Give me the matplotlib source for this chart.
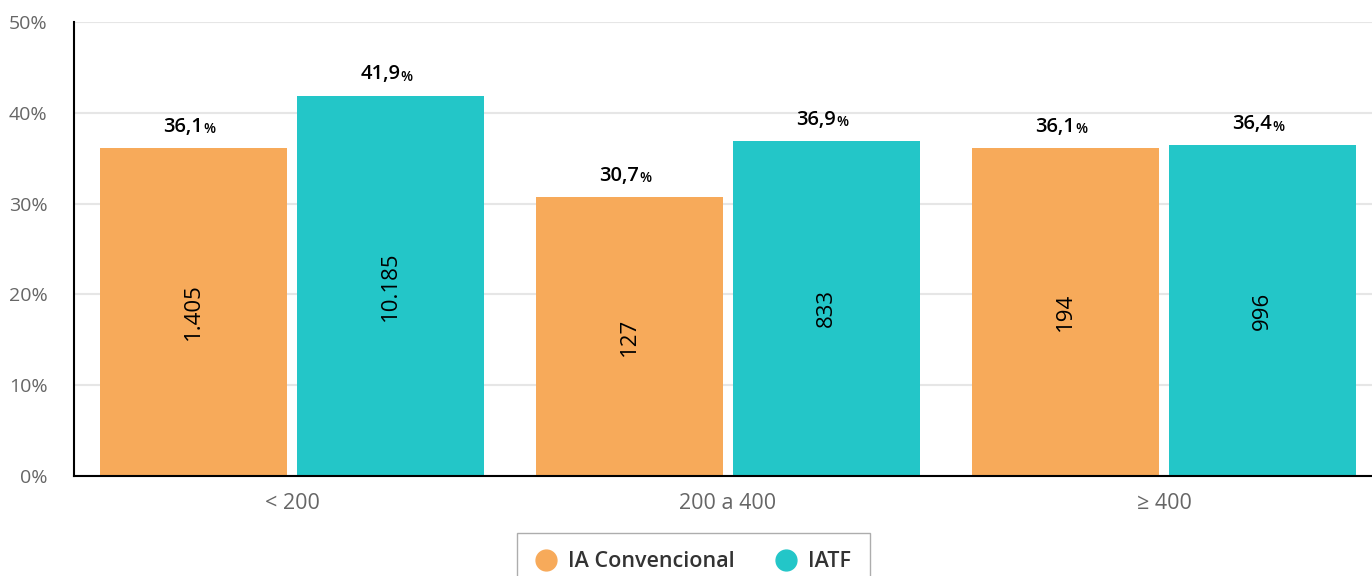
import numpy as np
import matplotlib
matplotlib.use('Agg')
import matplotlib.pyplot as plt
from matplotlib.lines import Line2D

plt.rcParams['font.family'] = ['Open Sans', 'DejaVu Sans']

#data
categories = ['< 200', '200 a 400', '≥ 400']
pct_conv = [36.1, 30.7, 36.1]
pct_iatf = [41.9, 36.9, 36.4]
n_conv = ['1.405', '127', '194']
n_iatf = ['10.185', '833', '996']
series = ['IA Convencional', 'IATF']
colors = ['#F7AA5A', '#23C6C8']

fig = plt.figure(figsize=(13.72, 5.76), dpi=100)
W, H = 1372, 576
ax = fig.add_axes([74 / W, 1 - 476 / H, (W - 74) / W, (476 - 22) / H])

x = np.arange(len(categories))
bw = 0.427
off = 0.226
for vals, nums, c, sgn in [(pct_conv, n_conv, colors[0], -1), (pct_iatf, n_iatf, colors[1], 1)]:
    xs = x + sgn * off
    ax.bar(xs, vals, width=bw, color=c, zorder=2)
    for xi, v, n in zip(xs, vals, nums):
        # count inside the bar
        ax.text(xi, v / 2, n, rotation=90, ha='center', va='center',
                fontsize=16, fontweight='medium', color='black', zorder=3)
        # percentage on top, number + small %
        lbl = ('%.1f' % v).replace('.', ',')
        ax.annotate(lbl, (xi, v), xytext=(7, 8), textcoords='offset points',
                    ha='right', va='bottom', fontsize=14.5, fontweight='semibold', color='black')
        ax.annotate('%', (xi, v), xytext=(7, 8.5), textcoords='offset points',
                    ha='left', va='bottom', fontsize=10, fontweight='semibold', color='black')

ax.set_ylim(0, 50)
ax.set_xlim(-0.5, -0.5 + (W - 74) / 436)
ax.set_yticks(np.arange(0, 51, 10))
ax.set_yticklabels(['%d%%' % t for t in range(0, 51, 10)])
ax.set_xticks(x)
ax.set_xticklabels(categories)
ax.tick_params(axis='y', length=0, pad=19, labelsize=14, labelcolor='#666666')
ax.tick_params(axis='x', length=0, pad=12, labelsize=15.5, labelcolor='#666666')
ax.grid(axis='y', color='#e6e6e6', linewidth=1.5, zorder=0)
ax.set_axisbelow(True)
for s in ['top', 'right']:
    ax.spines[s].set_visible(False)
ax.spines['left'].set_color('black')
ax.spines['bottom'].set_color('black')
ax.spines['left'].set_linewidth(1.5)
ax.spines['bottom'].set_linewidth(1.5)

handles = [Line2D([], [], marker='o', linestyle='', markersize=15, color=c) for c in colors]
leg = fig.legend(handles, series, loc='upper left', bbox_to_anchor=(517 / W, 1 - 533 / H),
                 ncol=2, frameon=True, fontsize=15.5, handlelength=1.0, handletextpad=0.52,
                 columnspacing=1.9, borderpad=0.85, borderaxespad=0, fancybox=False,
                 edgecolor='#999999')
for t in leg.get_texts():
    t.set_color('#333333')
    t.set_fontweight('semibold')

fig.savefig('out.png', dpi=100)
